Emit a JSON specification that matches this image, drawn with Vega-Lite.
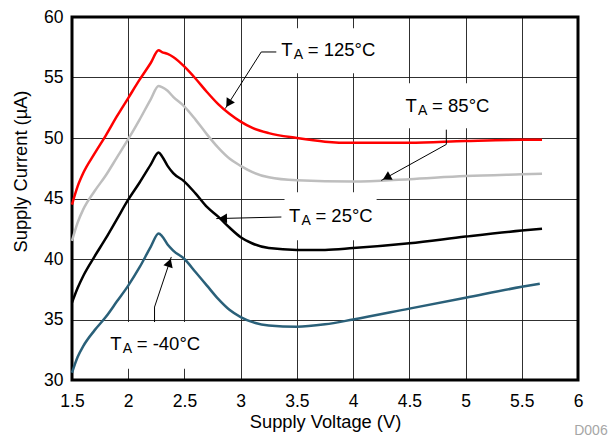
{
  "$schema": "https://vega.github.io/schema/vega-lite/v6.json",
  "width": 506,
  "height": 363,
  "autosize": {"type": "none"},
  "padding": {"left": 72, "top": 17, "right": 35, "bottom": 59},
  "background": "white",
  "config": {
    "view": {"stroke": null},
    "font": "Liberation Sans",
    "axis": {
      "domain": false,
      "ticks": false,
      "tickSize": 0,
      "grid": true,
      "gridColor": "#1a1a1a",
      "gridWidth": 1,
      "gridOpacity": 0.9,
      "labelFont": "Liberation Sans",
      "labelFontSize": 17.5,
      "labelColor": "#000000",
      "labelFlush": false,
      "labelOverlap": false,
      "titleFont": "Liberation Sans",
      "titleFontSize": 18.3,
      "titleFontWeight": "normal",
      "titleColor": "#000000"
    }
  },
  "datasets": {
    "curves": [
      {"t":"125","v":1.5,"i":44.5},{"t":"125","v":1.55,"i":46.0},{"t":"125","v":1.6,"i":47.1},{"t":"125","v":1.7,"i":48.7},{"t":"125","v":1.8,"i":50.2},{"t":"125","v":1.9,"i":51.8},{"t":"125","v":2.0,"i":53.3},{"t":"125","v":2.1,"i":54.8},{"t":"125","v":2.2,"i":56.2},{"t":"125","v":2.27,"i":57.25},{"t":"125","v":2.3,"i":57.1},{"t":"125","v":2.35,"i":56.95},{"t":"125","v":2.4,"i":56.7},{"t":"125","v":2.5,"i":55.9},{"t":"125","v":2.6,"i":54.9},{"t":"125","v":2.7,"i":53.8},{"t":"125","v":2.8,"i":52.8},{"t":"125","v":2.9,"i":52.0},{"t":"125","v":3.0,"i":51.35},{"t":"125","v":3.1,"i":50.85},{"t":"125","v":3.25,"i":50.4},{"t":"125","v":3.5,"i":50.0},{"t":"125","v":3.75,"i":49.7},{"t":"125","v":4.0,"i":49.6},{"t":"125","v":4.5,"i":49.6},{"t":"125","v":5.0,"i":49.75},{"t":"125","v":5.5,"i":49.85},{"t":"125","v":5.68,"i":49.85},
      {"t":"85","v":1.5,"i":41.5},{"t":"85","v":1.55,"i":43.0},{"t":"85","v":1.6,"i":44.1},{"t":"85","v":1.7,"i":45.6},{"t":"85","v":1.8,"i":46.9},{"t":"85","v":1.9,"i":48.4},{"t":"85","v":2.0,"i":49.9},{"t":"85","v":2.1,"i":51.5},{"t":"85","v":2.2,"i":53.2},{"t":"85","v":2.27,"i":54.3},{"t":"85","v":2.3,"i":54.2},{"t":"85","v":2.35,"i":53.9},{"t":"85","v":2.4,"i":53.4},{"t":"85","v":2.5,"i":52.6},{"t":"85","v":2.6,"i":51.5},{"t":"85","v":2.7,"i":50.3},{"t":"85","v":2.8,"i":49.2},{"t":"85","v":2.9,"i":48.3},{"t":"85","v":3.0,"i":47.7},{"t":"85","v":3.1,"i":47.2},{"t":"85","v":3.25,"i":46.75},{"t":"85","v":3.5,"i":46.5},{"t":"85","v":4.0,"i":46.4},{"t":"85","v":4.5,"i":46.6},{"t":"85","v":5.0,"i":46.85},{"t":"85","v":5.5,"i":47.0},{"t":"85","v":5.68,"i":47.05},
      {"t":"25","v":1.5,"i":36.4},{"t":"25","v":1.55,"i":37.6},{"t":"25","v":1.6,"i":38.6},{"t":"25","v":1.7,"i":40.2},{"t":"25","v":1.8,"i":41.7},{"t":"25","v":1.9,"i":43.3},{"t":"25","v":2.0,"i":44.9},{"t":"25","v":2.1,"i":46.3},{"t":"25","v":2.2,"i":47.8},{"t":"25","v":2.27,"i":48.8},{"t":"25","v":2.3,"i":48.5},{"t":"25","v":2.35,"i":47.7},{"t":"25","v":2.4,"i":47.1},{"t":"25","v":2.5,"i":46.4},{"t":"25","v":2.6,"i":45.4},{"t":"25","v":2.7,"i":44.3},{"t":"25","v":2.8,"i":43.5},{"t":"25","v":2.9,"i":42.6},{"t":"25","v":3.0,"i":41.8},{"t":"25","v":3.1,"i":41.3},{"t":"25","v":3.25,"i":40.9},{"t":"25","v":3.5,"i":40.75},{"t":"25","v":3.75,"i":40.75},{"t":"25","v":4.0,"i":40.9},{"t":"25","v":4.5,"i":41.3},{"t":"25","v":5.0,"i":41.85},{"t":"25","v":5.5,"i":42.35},{"t":"25","v":5.68,"i":42.5},
      {"t":"-40","v":1.5,"i":30.6},{"t":"-40","v":1.55,"i":31.9},{"t":"-40","v":1.6,"i":32.8},{"t":"-40","v":1.7,"i":34.1},{"t":"-40","v":1.8,"i":35.2},{"t":"-40","v":1.9,"i":36.5},{"t":"-40","v":2.0,"i":37.8},{"t":"-40","v":2.1,"i":39.3},{"t":"-40","v":2.2,"i":41.0},{"t":"-40","v":2.27,"i":42.1},{"t":"-40","v":2.3,"i":41.9},{"t":"-40","v":2.35,"i":41.2},{"t":"-40","v":2.4,"i":40.7},{"t":"-40","v":2.5,"i":40.0},{"t":"-40","v":2.6,"i":38.9},{"t":"-40","v":2.7,"i":37.8},{"t":"-40","v":2.8,"i":36.7},{"t":"-40","v":2.9,"i":35.8},{"t":"-40","v":3.0,"i":35.2},{"t":"-40","v":3.1,"i":34.8},{"t":"-40","v":3.25,"i":34.5},{"t":"-40","v":3.5,"i":34.4},{"t":"-40","v":3.75,"i":34.6},{"t":"-40","v":4.0,"i":35.0},{"t":"-40","v":4.5,"i":35.9},{"t":"-40","v":5.0,"i":36.8},{"t":"-40","v":5.5,"i":37.7},{"t":"-40","v":5.66,"i":37.95}
    ],
    "boxes": [
      {"id":"125","v":3.344,"v2":4.216,"i":59.07,"i2":55.35},
      {"id":"85","v":4.431,"v2":5.223,"i":54.52,"i2":50.8},
      {"id":"25","v":3.39,"v2":4.209,"i":45.51,"i2":41.55},
      {"id":"-40","v":1.798,"v2":2.67,"i":34.79,"i2":30.94}
    ],
    "frame": [
      {"v":1.5,"v2":6,"i":30,"i2":60}
    ],
    "leaders": [
      {"id":"125","seq":1,"v":3.317,"i":57.11},{"id":"125","seq":2,"v":3.183,"i":57.11},{"id":"125","seq":3,"v":2.863,"i":52.43},
      {"id":"85","seq":1,"v":4.829,"i":50.69},{"id":"85","seq":2,"v":4.829,"i":49.47},{"id":"85","seq":3,"v":4.25,"i":46.49},
      {"id":"25","seq":1,"v":3.362,"i":43.47},{"id":"25","seq":2,"v":2.783,"i":43.34},
      {"id":"-40","seq":1,"v":2.234,"i":34.79},{"id":"-40","seq":2,"v":2.234,"i":36.03},{"id":"-40","seq":3,"v":2.383,"i":40.17}
    ],
    "arrows": [
      {"id":"125","v":2.892,"i":52.85},
      {"id":"85","v":4.298,"i":46.74},
      {"id":"25","v":2.841,"i":43.35},
      {"id":"-40","v":2.366,"i":39.69}
    ],
    "labels": [
      {"id":"125","v":3.361,"i":56.75,"rest":"= 125°C"},
      {"id":"85","v":4.467,"i":52.15,"rest":"= 85°C"},
      {"id":"25","v":3.429,"i":43.06,"rest":"= 25°C"},
      {"id":"-40","v":1.84,"i":32.51,"rest":"= -40°C"}
    ],
    "note": [
      {"v":6.264,"i":25.43,"txt":"D006"}
    ]
  },
  "encoding": {
    "x": {
      "field": "v",
      "type": "quantitative",
      "scale": {"domain": [1.5, 6], "nice": false, "zero": false},
      "axis": {
        "title": "Supply Voltage (V)",
        "values": [1.5, 2, 2.5, 3, 3.5, 4, 4.5, 5, 5.5, 6],
        "format": "~g",
        "labelPadding": 12,
        "titlePadding": 4
      }
    },
    "y": {
      "field": "i",
      "type": "quantitative",
      "scale": {"domain": [30, 60], "nice": false, "zero": false},
      "axis": {
        "title": "Supply Current (µA)",
        "values": [30, 35, 40, 45, 50, 55, 60],
        "labelPadding": 9,
        "titleX": -46,
        "titleY": 154,
        "titleAngle": -90,
        "titleAlign": "center",
        "titleBaseline": "alphabetic"
      }
    }
  },
  "layer": [
    {
      "data": {"name": "boxes"},
      "mark": {"type": "rect", "fill": "white", "stroke": null},
      "encoding": {
        "x2": {"field": "v2"},
        "y2": {"field": "i2"}
      }
    },
    {
      "data": {"name": "frame"},
      "mark": {"type": "rect", "fill": null, "fillOpacity": 0, "stroke": "#000000", "strokeWidth": 3},
      "encoding": {
        "x2": {"field": "v2"},
        "y2": {"field": "i2"}
      }
    },
    {
      "data": {"name": "curves"},
      "mark": {"type": "line", "strokeWidth": 2.5, "interpolate": "monotone"},
      "encoding": {
        "color": {
          "field": "t",
          "type": "nominal",
          "scale": {"domain": ["125", "85", "25", "-40"], "range": ["#FF0000", "#BEBEBE", "#000000", "#2A6079"]},
          "legend": null
        },
        "detail": {"field": "t"}
      }
    },
    {
      "data": {"name": "leaders"},
      "mark": {"type": "line", "stroke": "#000000", "strokeWidth": 1},
      "encoding": {
        "detail": {"field": "id"},
        "order": {"field": "seq", "type": "quantitative"}
      }
    },
    {
      "data": {"name": "arrows"},
      "transform": [{"filter": "datum.id === '125'"}],
      "mark": {"type": "point", "shape": "triangle-up", "filled": true, "color": "#000000", "opacity": 1, "size": 95, "angle": 212.5}
    },
    {
      "data": {"name": "arrows"},
      "transform": [{"filter": "datum.id === '85'"}],
      "mark": {"type": "point", "shape": "triangle-up", "filled": true, "color": "#000000", "opacity": 1, "size": 95, "angle": 241}
    },
    {
      "data": {"name": "arrows"},
      "transform": [{"filter": "datum.id === '25'"}],
      "mark": {"type": "point", "shape": "triangle-up", "filled": true, "color": "#000000", "opacity": 1, "size": 95, "angle": 269}
    },
    {
      "data": {"name": "arrows"},
      "transform": [{"filter": "datum.id === '-40'"}],
      "mark": {"type": "point", "shape": "triangle-up", "filled": true, "color": "#000000", "opacity": 1, "size": 95, "angle": 18.5}
    },
    {
      "data": {"name": "labels"},
      "mark": {"type": "text", "text": "T", "align": "left", "baseline": "alphabetic", "fontSize": 18.5, "font": "Liberation Sans", "color": "#000000"}
    },
    {
      "data": {"name": "labels"},
      "mark": {"type": "text", "text": "A", "align": "left", "baseline": "alphabetic", "fontSize": 14, "dx": 12.5, "dy": 3, "font": "Liberation Sans", "color": "#000000"}
    },
    {
      "data": {"name": "labels"},
      "mark": {"type": "text", "align": "left", "baseline": "alphabetic", "fontSize": 18.5, "dx": 26.5, "font": "Liberation Sans", "color": "#000000"},
      "encoding": {"text": {"field": "rest"}}
    },
    {
      "data": {"name": "note"},
      "mark": {"type": "text", "align": "right", "baseline": "alphabetic", "fontSize": 14, "font": "Liberation Sans", "color": "#A6A6A6"},
      "encoding": {"text": {"field": "txt"}}
    }
  ]
}
